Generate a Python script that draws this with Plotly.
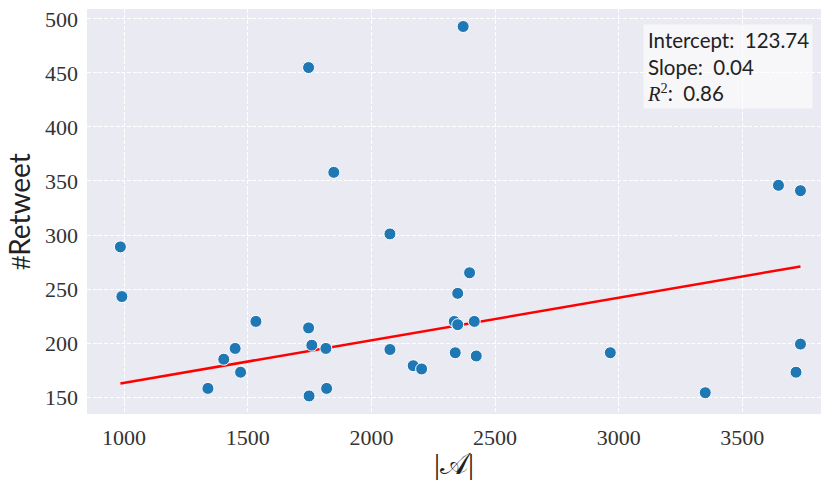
import plotly.graph_objects as go
import numpy as np

# data
sizes = [985, 991, 1339, 1403, 1449, 1471, 1533, 1746, 1746, 1748, 1759, 1816,
         1819, 1848, 2075, 2075, 2169, 2203, 2335, 2339, 2349, 2349, 2371, 2397,
         2416, 2424, 2966, 3350, 3646, 3717, 3735, 3735]
retweets = [289, 243, 158, 185, 195, 173, 220, 214, 455, 151, 198, 195,
            158, 358, 301, 194, 179, 176, 220, 191, 246, 217, 493, 265,
            220, 188, 191, 154, 346, 173, 341, 199]
intercept = 123.74
slope = 0.0394
r2 = 0.86
x_ticks = [1000, 1500, 2000, 2500, 3000, 3500]
y_ticks = [150, 200, 250, 300, 350, 400, 450, 500]

line_x = np.array([min(sizes), max(sizes)])
line_y = intercept + slope * line_x

fig = go.Figure()
fig.add_trace(go.Scatter(
    x=line_x, y=line_y, mode="lines",
    line=dict(color="red", width=2.5), showlegend=False, hoverinfo="skip"))
fig.add_trace(go.Scatter(
    x=sizes, y=retweets, mode="markers",
    marker=dict(color="#1f77b4", size=12, line=dict(color="white", width=1)),
    showlegend=False))

serif = "Times New Roman, Liberation Serif, serif"
sans = "Lato, sans-serif"

fig.update_layout(
    width=822, height=480,
    margin=dict(l=87, r=1, t=9, b=66),
    paper_bgcolor="white", plot_bgcolor="#eaeaf2",
    font=dict(family=serif, size=22, color="#333333"),
    xaxis=dict(range=[850, 3818], tickvals=x_ticks, ticktext=[str(v) for v in x_ticks],
               showgrid=True, gridcolor="white", griddash="4px,1.7px", gridwidth=1,
               zeroline=False, showline=False, ticks="", ticklabelstandoff=8,
               tickfont=dict(family=serif, size=22, color="#333333"),
               title=dict(text="|𝒜|", font=dict(family=serif, size=30, color="#222222"),
                          standoff=4)),
    yaxis=dict(range=[134.3, 509.2], tickvals=y_ticks, ticktext=[str(v) for v in y_ticks],
               showgrid=True, gridcolor="white", griddash="4px,1.7px", gridwidth=1,
               zeroline=False, showline=False, ticks="", ticklabelstandoff=8,
               tickfont=dict(family=serif, size=22, color="#333333"),
               title=dict(text="#<span style='font-family:Lato'>Retweet</span>",
                          font=dict(family=serif, size=28, color="#222222"), standoff=6)),
)

fig.add_annotation(
    xref="paper", yref="paper", x=0.989, y=0.963, xanchor="right", yanchor="top",
    align="left", showarrow=False,
    text=(f"Intercept:&nbsp; {intercept:.2f}<br>Slope:&nbsp; {slope:.2f}<br>"
          f"<span style='font-family:Liberation Serif'><i>R</i><sup>2</sup></span>:&nbsp; {r2:.2f}"),
    font=dict(family=sans, size=20.5, color="#222222"),
    bgcolor="rgba(255,255,255,0.6)", borderpad=3,
)

fig.write_html("out.html")
